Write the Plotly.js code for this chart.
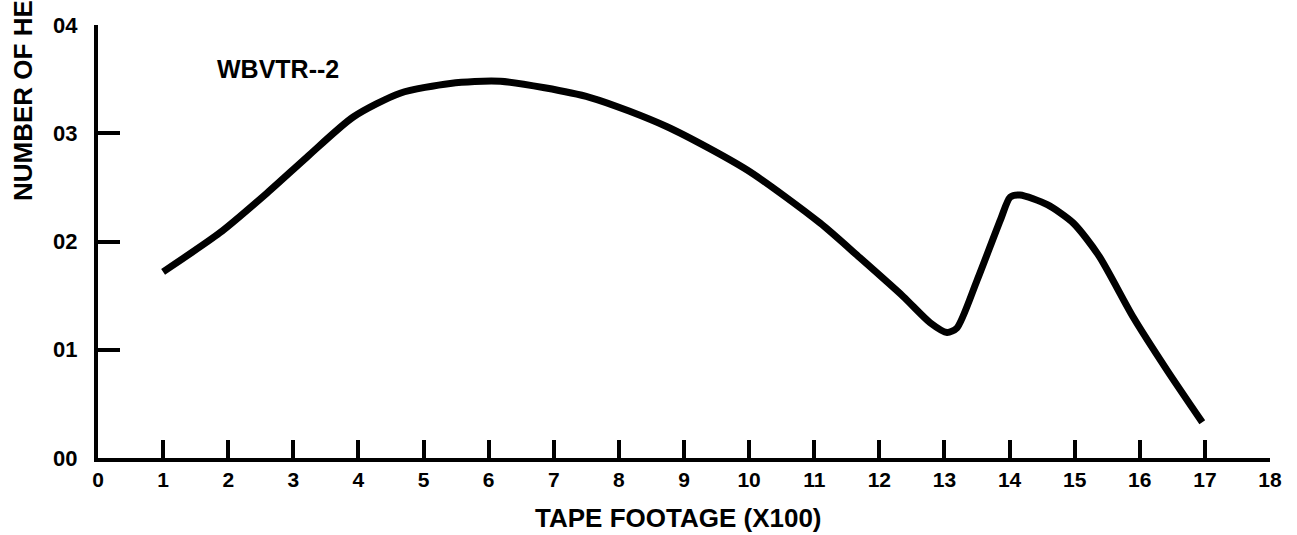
<!DOCTYPE html>
<html>
<head>
<meta charset="utf-8">
<script src="https://cdn.plot.ly/plotly-3.0.1.min.js"></script>
<style>
  html, body { margin: 0; padding: 0; background: #ffffff; }
  #chart { width: 1297px; height: 535px; }
</style>
</head>
<body>
<div id="chart"></div>
<script>
// Data
const tapeFootage = [1, 1.87, 2.6, 3.21, 3.92, 4.64, 5.41, 6.18, 7.56, 8.74, 9.97, 11.09, 11.7, 12.37, 12.78, 13.04, 13.19, 13.5, 13.86, 14.01, 14.16, 14.58, 14.98, 15.37, 15.9, 16.42, 16.96];
const headCount = [1.72, 2.08, 2.45, 2.78, 3.15, 3.37, 3.46, 3.48, 3.33, 3.06, 2.66, 2.17, 1.85, 1.49, 1.25, 1.16, 1.20, 1.64, 2.20, 2.41, 2.43, 2.34, 2.17, 1.87, 1.30, 0.81, 0.33];

const xTickVals = [0, 1, 2, 3, 4, 5, 6, 7, 8, 9, 10, 11, 12, 13, 14, 15, 16, 17, 18];
const xTickText = ['0', '1', '2', '3', '4', '5', '6', '7', '8', '9', '10', '11', '12', '13', '14', '15', '16', '17', '18'];
const yTickVals = [0, 1, 2, 3, 4];
const yTickText = ['00', '01', '02', '03', '04'];

const seriesLabel = 'WBVTR--2';
const xTitle = 'TAPE FOOTAGE (X100)';
const yTitle = 'NUMBER OF HEADS';

const fontFamily = '"Liberation Sans", Arial, sans-serif';

const trace = {
  x: tapeFootage,
  y: headCount,
  type: 'scatter',
  mode: 'lines',
  line: { color: '#000000', width: 7, shape: 'spline', smoothing: 0.7 },
  hoverinfo: 'skip',
  showlegend: false
};

const layout = {
  width: 1297,
  height: 535,
  margin: { l: 98, r: 27, t: 25, b: 77 },
  paper_bgcolor: '#ffffff',
  plot_bgcolor: '#ffffff',
  showlegend: false,
  font: { family: fontFamily, color: '#000000', size: 21, weight: 'bold' },
  xaxis: {
    range: [0, 18],
    tickmode: 'array',
    tickvals: xTickVals,
    ticktext: xTickText,
    ticks: 'inside',
    ticklen: 18,
    tickwidth: 4,
    tickcolor: '#000000',
    showline: true,
    linewidth: 4,
    linecolor: '#000000',
    showgrid: false,
    zeroline: false,
    tickfont: { family: fontFamily, size: 21, color: '#000000', weight: 'bold' },
    fixedrange: true
  },
  yaxis: {
    range: [0, 4],
    tickmode: 'array',
    tickvals: yTickVals,
    ticktext: yTickText,
    ticks: 'inside',
    ticklen: 22,
    tickwidth: 4,
    tickcolor: '#000000',
    showline: true,
    linewidth: 4,
    linecolor: '#000000',
    showgrid: false,
    zeroline: false,
    ticklabelstandoff: 12,
    tickfont: { family: fontFamily, size: 22, color: '#000000', weight: 'bold' },
    fixedrange: true
  },
  annotations: [
    {
      text: seriesLabel,
      xref: 'paper', yref: 'paper',
      x: 0.1536, y: 0.898,
      xanchor: 'center', yanchor: 'middle',
      showarrow: false,
      font: { family: fontFamily, size: 25, color: '#000000', weight: 'bold' }
    },
    {
      text: xTitle,
      xref: 'paper', yref: 'paper',
      x: 0.4957, y: -0.1386,
      xanchor: 'center', yanchor: 'middle',
      showarrow: false,
      font: { family: fontFamily, size: 26, color: '#000000', weight: 'bold' }
    },
    {
      text: yTitle,
      xref: 'paper', yref: 'paper',
      x: -0.064, y: 0.589,
      xanchor: 'center', yanchor: 'bottom',
      textangle: -90,
      showarrow: false,
      font: { family: fontFamily, size: 26, color: '#000000', weight: 'bold' }
    }
  ]
};

Plotly.newPlot('chart', [trace], layout, { displayModeBar: false, staticPlot: true });
</script>
</body>
</html>
